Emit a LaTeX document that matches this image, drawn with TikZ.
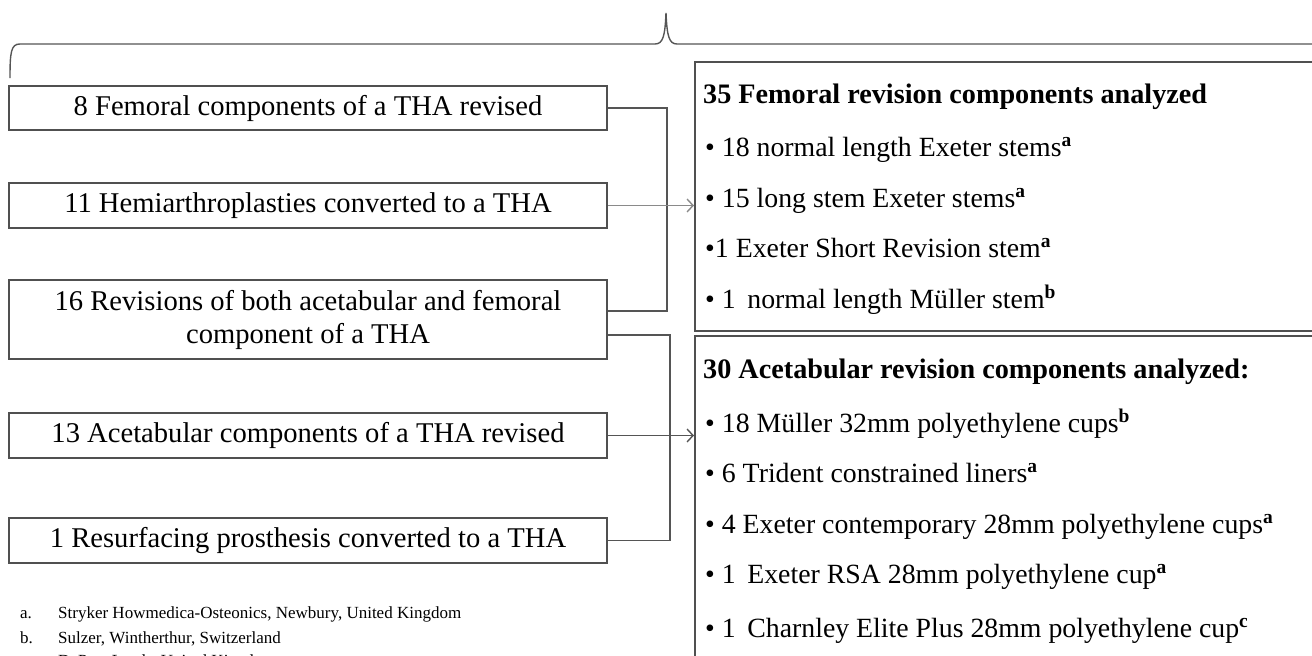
\documentclass[tikz,border=0pt]{standalone}
\usepackage{fontspec}
\setmainfont{Liberation Serif}
\usetikzlibrary{arrows.meta,calc}
\definecolor{boxc}{HTML}{505050}
\definecolor{linec}{HTML}{555555}
\definecolor{lightc}{HTML}{8A8A8A}
\begin{document}
\begin{tikzpicture}[x=1pt,y=-1pt,
 lbox/.style={draw=boxc, line width=1.6pt, minimum width=598pt, inner sep=0pt, font=\fontsize{28.6}{33}\selectfont, align=center},
 rbox/.style={draw=boxc, line width=1.6pt, anchor=north west, inner sep=0pt},
 rtxt/.style={anchor=base west, inner sep=0pt, font=\fontsize{27.8}{30}\selectfont},
 rhead/.style={anchor=base west, inner sep=0pt, font=\fontsize{28.2}{30}\selectfont\bfseries},
 conn/.style={draw=linec, line width=1.6pt},
 arr/.style={conn, -{Straight Barb[length=6pt,width=13pt,line width=1.4pt]}},
 fn/.style={anchor=base west, inner sep=0pt, font=\fontsize{17}{20}\selectfont}]
\useasboundingbox (0,0) rectangle (1312,656);
\clip (0,0) rectangle (1312,656);

% top brace
\draw[draw=linec, line width=1.4pt] (10,78) .. controls (10,52) and (11,44) .. (20,44) -- (655,44)
  .. controls (663,44) and (665,36) .. (666,13) .. controls (667,36) and (669,44) .. (677,44) -- (1330,44);

% left boxes
\node[lbox, minimum height=44pt] (b1) at (308,108) {8 Femoral components of a THA revised};
\node[lbox, minimum height=45pt] (b2) at (308,205.5) {11 Hemiarthroplasties converted to a THA};
\node[lbox, minimum height=79pt] (b3) at (308,319.5) {16 Revisions of both acetabular and femoral\\component of a THA};
\node[lbox, minimum height=45pt] (b4) at (308,435.5) {13 Acetabular components of a THA revised};
\node[lbox, minimum height=45pt] (b5) at (308,540.5) {1 Resurfacing prosthesis converted to a THA};

% right boxes
\node[rbox, minimum width=650pt, minimum height=269pt] (fem) at (694,61) {};
\node[rbox, minimum width=650pt, minimum height=400pt] (ace) at (694,335) {};

\node[rhead] (f0) at (703,103) {35 Femoral revision components analyzed};
\node[rtxt] (f1) at (705,156) {• 18 normal length Exeter stems\textsuperscript{\bfseries a}};
\node[rtxt] (f2) at (705,207) {• 15 long stem Exeter stems\textsuperscript{\bfseries a}};
\node[rtxt] (f3) at (705,257) {•1 Exeter Short Revision stem\textsuperscript{\bfseries a}};
\node[rtxt] (f4) at (705,308) {• 1 \,normal length Müller stem\textsuperscript{\bfseries b}};

\node[rhead] (a0) at (703,378) {30 Acetabular revision components analyzed:};
\node[rtxt] (a1) at (705,432) {• 18 Müller 32mm polyethylene cups\textsuperscript{\bfseries b}};
\node[rtxt] (a2) at (705,482) {• 6 Trident constrained liners\textsuperscript{\bfseries a}};
\node[rtxt] (a3) at (705,533) {• 4 Exeter contemporary 28mm polyethylene cups\textsuperscript{\bfseries a}};
\node[rtxt] (a4) at (705,583) {• 1 \,Exeter RSA 28mm polyethylene cup\textsuperscript{\bfseries a}};
\node[rtxt] (a5) at (705,637) {• 1 \,Charnley Elite Plus 28mm polyethylene cup\textsuperscript{\bfseries c}};

% connectors
\coordinate (b3u) at ($(b3.east)+(0,-8.5)$);
\coordinate (b3d) at ($(b3.east)+(0,15.5)$);
\draw[conn] (b1.east) -- (667,108) |- (b3u);
\draw[conn] (b3d) -- (670,335) |- (b5.east);
\draw[arr, draw=lightc, line width=1.1pt] (b2.east) -- (b2.east -| fem.west);
\draw[arr] (b4.east) -- (b4.east -| ace.west);

% footnotes
\node[fn] (na) at (20,618) {a.};
\node[fn] (ta) at (58,618) {Stryker Howmedica-Osteonics, Newbury, United Kingdom};
\node[fn] (nb) at (20,643) {b.};
\node[fn] (tb) at (58,643) {Sulzer, Wintherthur, Switzerland};
\node[fn] (nc) at (20,666) {c.};
\node[fn] (tc) at (58,666) {DePuy, Leeds, United Kingdom};
\end{tikzpicture}
\end{document}
